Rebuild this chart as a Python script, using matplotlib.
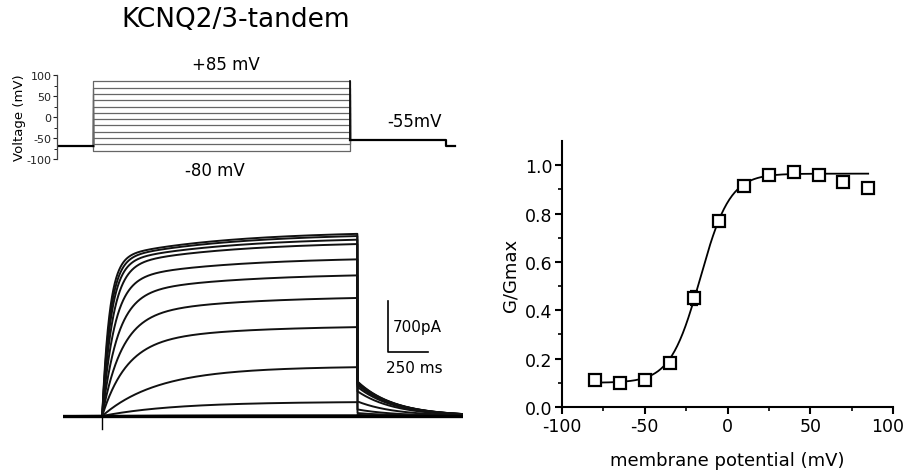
import numpy as np
import matplotlib.pyplot as plt
from matplotlib.transforms import ScaledTranslation

plt.rcParams['axes.unicode_minus'] = False

# voltage steps (mV) used for the protocol, the traces and the G-V curve
steps = [-80, -65, -50, -35, -20, -5, 10, 25, 40, 55, 70, 85]
v_hold = -70
v_tail = -55

# protocol timing (ms)
t_on = 245
t_off = 1840
t_end = 2500

# current traces, one value per step
i_end = [0, 10, 190, 670, 1220, 1620, 1930, 2150, 2360, 2420, 2470, 2500]   # pA at end of step
tau_fast = [500, 500, 420, 320, 150, 120, 95, 75, 65, 55, 50, 45]           # ms
frac_fast = [0.8, 0.8, 0.8, 0.8, 0.8, 0.82, 0.84, 0.85, 0.85, 0.85, 0.85, 0.85]
tau_slow = 700
tail_amp = [0, 15, 40, 90, 200, 340, 400, 430, 450, 460, 465, 475]          # pA
tau_tail = 230

# G/Gmax vs membrane potential
g_mean = [0.11, 0.10, 0.11, 0.18, 0.45, 0.77, 0.915, 0.96, 0.97, 0.96, 0.93, 0.905]
g_err = [0.01, 0.01, 0.01, 0.012, 0.03, 0.02, 0.01, 0.01, 0.012, 0.012, 0.01, 0.008]
# Boltzmann fit parameters
g_bottom, g_top, v_half, slope = 0.10, 0.965, -16.5, 9.0

fig = plt.figure(figsize=(9.06, 4.77), dpi=100)
W, H = 906, 477

def px_axes(x0, y0, x1, y1):
    return fig.add_axes([x0 / W, 1 - y1 / H, (x1 - x0) / W, (y1 - y0) / H])

fig.text(236 / W, 1 - 20 / H, "KCNQ2/3-tandem", fontsize=19, ha="center", va="center")

# ---- voltage protocol ----
axv = px_axes(57, 76, 460, 160)
ms_per_px = 6.25
p_on = (93 - 57) * ms_per_px
p_off = (350 - 57) * ms_per_px
p_tail = (446 - 57) * ms_per_px
p_end = (455 - 57) * ms_per_px
for v in steps:
    axv.plot([p_on, p_on, p_off, p_off], [v_hold, v, v, v_tail], color="#666666", lw=0.9)
axv.plot([0, p_on], [v_hold, v_hold], color="black", lw=1.6)
axv.plot([p_off, p_tail, p_tail, p_end], [v_tail, v_tail, v_hold, v_hold], color="black", lw=1.6)
axv.plot([p_off, p_off], [85, v_tail], color="black", lw=1.2)
axv.set_xlim(0, (460 - 57) * ms_per_px)
axv.set_ylim(-100, 100)
for s in ["top", "right", "bottom"]:
    axv.spines[s].set_visible(False)
axv.spines["left"].set_linewidth(0.9)
axv.spines["left"].set_color("#444444")
axv.set_xticks([])
axv.set_yticks([-100, -50, 0, 50, 100])
axv.set_yticks([-75, -25, 25, 75], minor=True)
axv.tick_params(axis="y", labelsize=8, length=3, width=0.8, pad=1, colors="#222222")
axv.tick_params(axis="y", which="minor", length=2, width=0.6)
axv.set_ylabel("Voltage (mV)", fontsize=9.5, labelpad=0)
axv.text(226 / W, 1 - 65 / H, "+85 mV", fontsize=12, ha="center", va="center", transform=fig.transFigure)
axv.text(215 / W, 1 - 171 / H, "-80 mV", fontsize=12, ha="center", va="center", transform=fig.transFigure)
axv.text(415 / W, 1 - 122 / H, "-55mV", fontsize=12, ha="center", va="center", transform=fig.transFigure)

# ---- current traces ----
axi = px_axes(63, 228, 463, 432)
pa_per_px = 700 / 51
t = np.linspace(0, t_end, 2000)
for k in range(len(steps)):
    I = np.zeros_like(t)
    on = (t >= t_on) & (t < t_off)
    dt = t[on] - t_on
    I[on] = i_end[k] * (1 - frac_fast[k] * np.exp(-dt / tau_fast[k])
                        - (1 - frac_fast[k]) * np.exp(-dt / tau_slow)) \
        / (1 - frac_fast[k] * np.exp(-(t_off - t_on) / tau_fast[k])
           - (1 - frac_fast[k]) * np.exp(-(t_off - t_on) / tau_slow))
    off = t >= t_off
    I[off] = tail_amp[k] * np.exp(-(t[off] - t_off) / tau_tail)
    axi.plot(t, I, color="#111111", lw=1.4)
axi.plot([0, t_end], [0, 0], color="black", lw=2.4)
axi.plot([t_on, t_on], [0, -13 * pa_per_px], color="black", lw=1)

# scale bar
sb_x = (388 - 63) * ms_per_px
sb_y = (417 - 353) * pa_per_px
axi.plot([sb_x, sb_x, sb_x + 250], [sb_y + 700, sb_y, sb_y], color="black", lw=1.2)
axi.text(sb_x + 30, sb_y + 350, "700pA", fontsize=11, va="center")
axi.text(sb_x - 10, sb_y - 210, "250 ms", fontsize=11, va="center")
axi.set_xlim(0, t_end)
axi.set_ylim(-15 * pa_per_px, 189 * pa_per_px)
axi.axis("off")

# ---- G/Gmax ----
axg = px_axes(562, 142, 893, 408)
vfit = np.linspace(steps[0], steps[-1], 300)
axg.plot(vfit, g_bottom + (g_top - g_bottom) / (1 + np.exp(-(vfit - v_half) / slope)),
         color="black", lw=1.3)
axg.errorbar(steps, g_mean, yerr=g_err, fmt="s", ms=8, mfc="white", mec="black",
             mew=1.6, ecolor="black", elinewidth=1.2, capsize=3)
axg.set_xlim(-100, 100)
axg.set_ylim(0, 1.1)
axg.set_xticks([-100, -50, 0, 50, 100])
axg.set_xticks([-75, -25, 25, 75], minor=True)
axg.set_yticks([0, 0.2, 0.4, 0.6, 0.8, 1.0])
axg.set_yticks([0.1, 0.3, 0.5, 0.7, 0.9], minor=True)
axg.set_yticklabels(["0.0", "0.2", "0.4", "0.6", "0.8", "1.0"])
for s in ["top", "right"]:
    axg.spines[s].set_visible(False)
for s in ["left", "bottom"]:
    axg.spines[s].set_linewidth(1.5)
axg.tick_params(labelsize=12.5, length=5, width=1.5, pad=2)
axg.tick_params(which="minor", length=3, width=1.2)
axg.set_xlabel("membrane potential (mV)", fontsize=13, labelpad=12)
axg.set_ylabel("G/Gmax", fontsize=13)
# keep the last x tick label inside the figure
last = axg.get_xticklabels()[-1]
last.set_transform(last.get_transform() + ScaledTranslation(-0.05, 0, fig.dpi_scale_trans))

fig.savefig("out.png", dpi=100)
